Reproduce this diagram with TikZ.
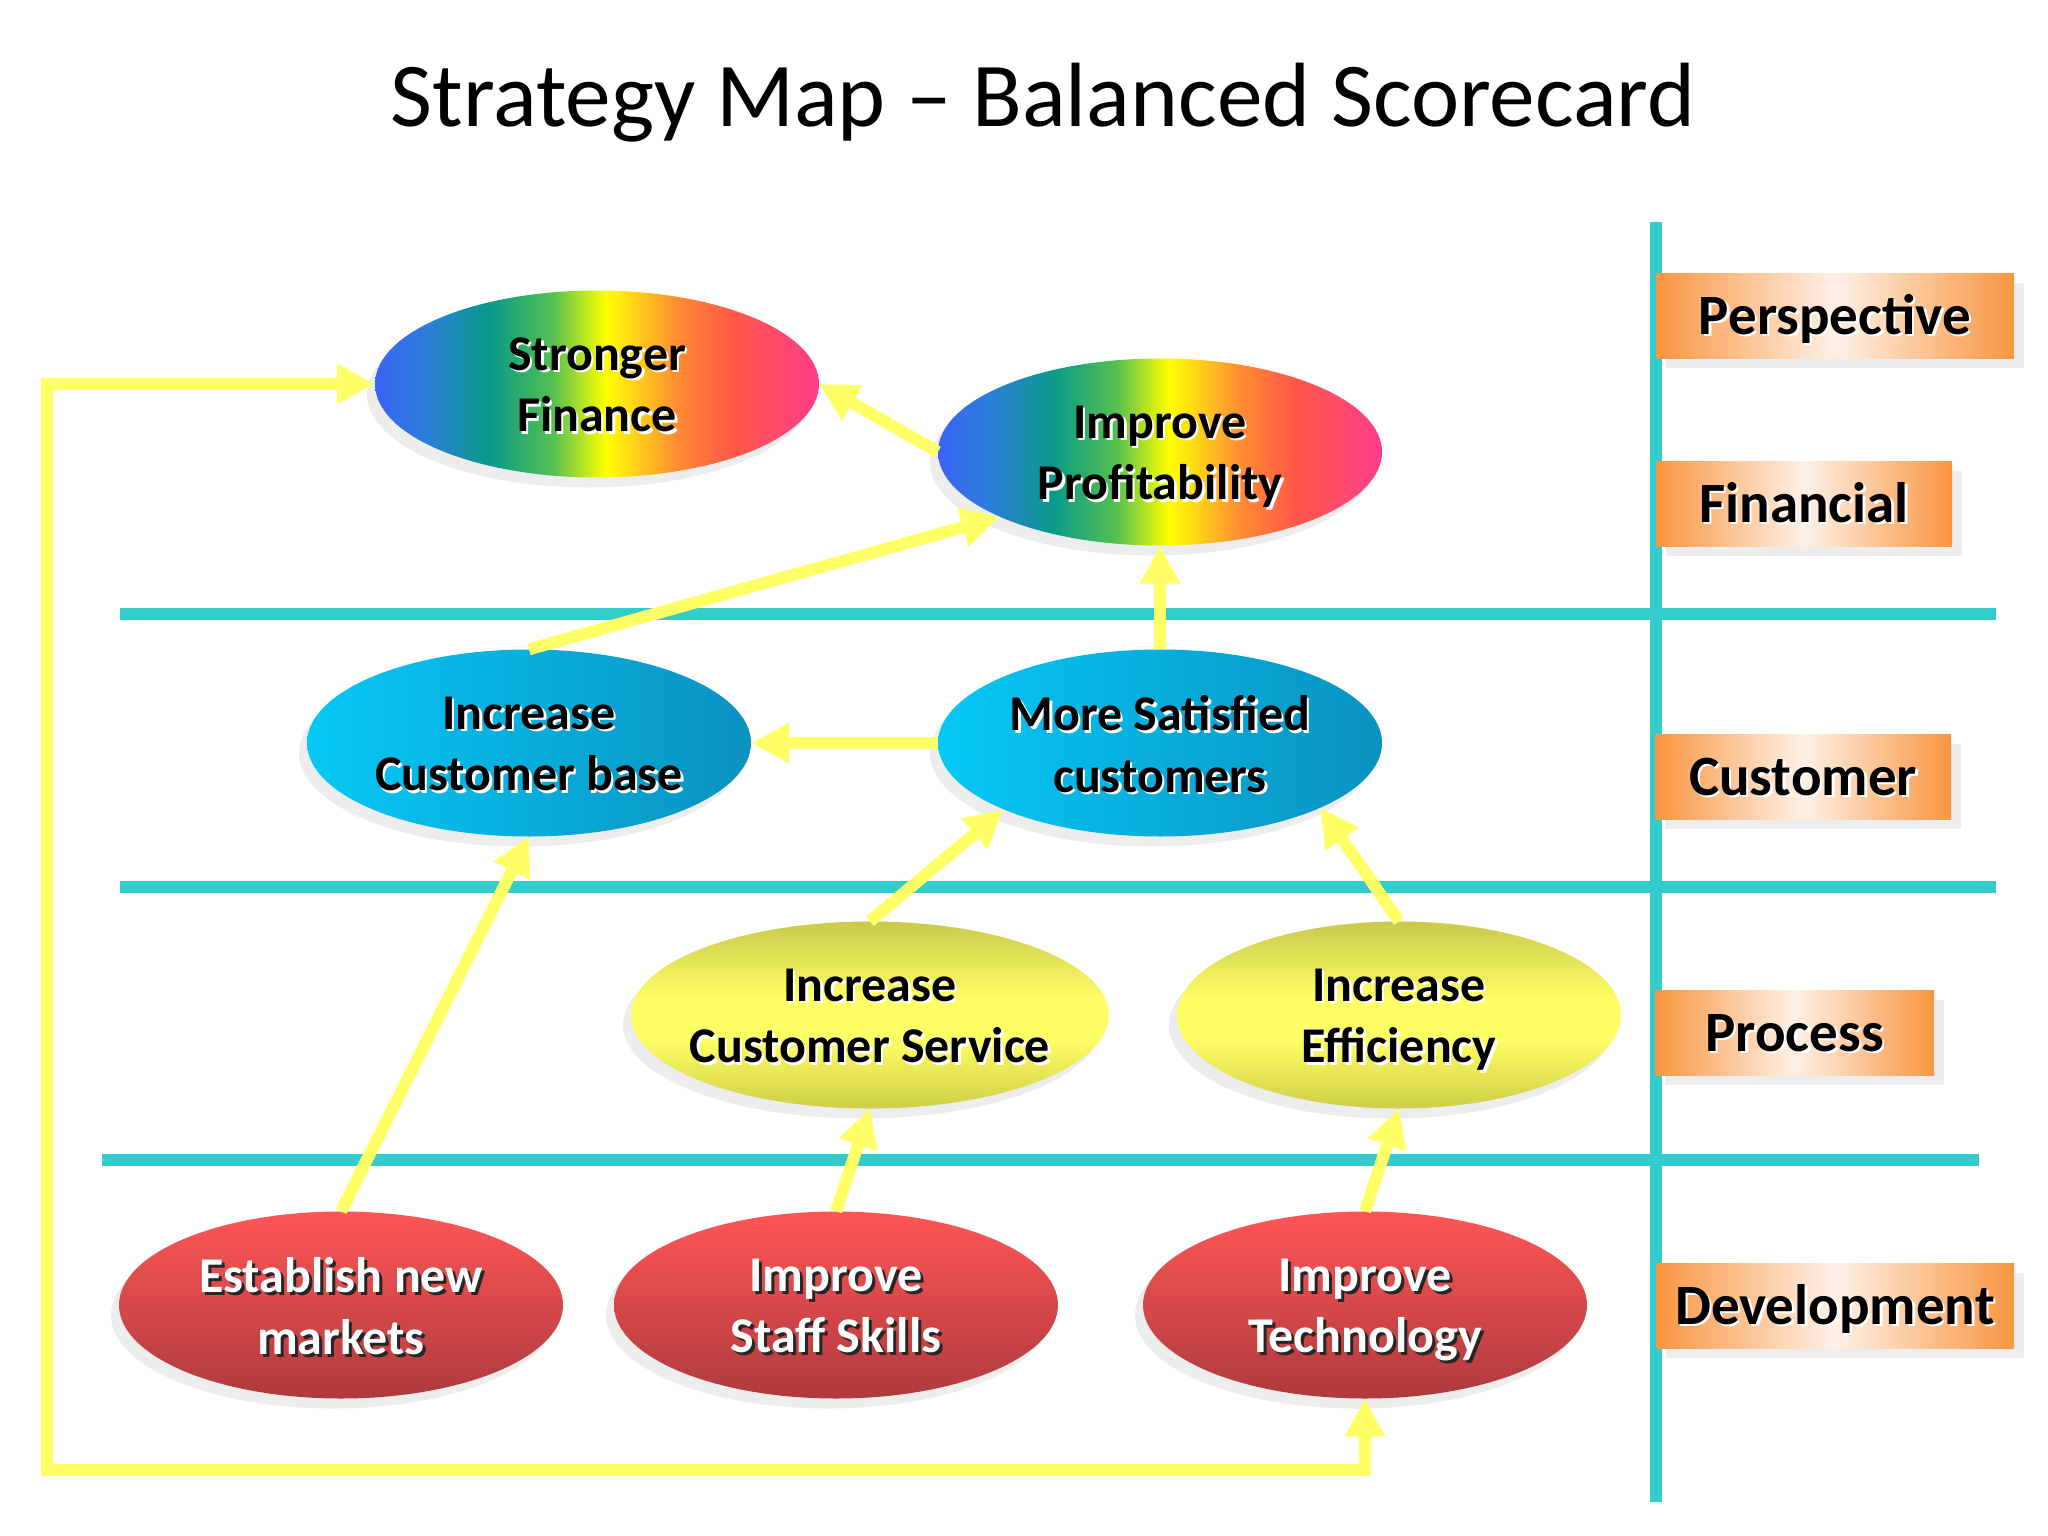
\documentclass[tikz,border=0pt]{standalone}
\usepackage{fontspec}
\setmainfont{Carlito}
\usetikzlibrary{shapes.geometric,arrows.meta,shadows}
\definecolor{lineteal}{HTML}{33CCCC}
\definecolor{arrowyellow}{HTML}{FFFF66}
\definecolor{rb1}{HTML}{3A63F5}
\definecolor{rb2}{HTML}{2A7FD8}
\definecolor{rb3}{HTML}{0A9A88}
\definecolor{rb4}{HTML}{55C050}
\definecolor{rb5}{HTML}{FFFF00}
\definecolor{rb6}{HTML}{FFC81E}
\definecolor{rb7}{HTML}{FF8C32}
\definecolor{rb8}{HTML}{FF5A46}
\definecolor{rb9}{HTML}{FF3C8C}
\definecolor{cyL}{HTML}{06C8F6}
\definecolor{cyR}{HTML}{0A92C0}
\definecolor{yT}{HTML}{C9C94C}
\definecolor{yM}{HTML}{FFFF66}
\definecolor{yB}{HTML}{CFCF48}
\definecolor{rT}{HTML}{FF5656}
\definecolor{rB}{HTML}{AE3A3D}
\definecolor{orB}{HTML}{F9953F}
\definecolor{orL}{HTML}{FEF1E7}
\pgfdeclarehorizontalshading{rainbow}{100bp}{color(0bp)=(rb1); color(25bp)=(rb1); color(31bp)=(rb2); color(38bp)=(rb3); color(45bp)=(rb4); color(51bp)=(rb5); color(55bp)=(rb6); color(59bp)=(rb7); color(65bp)=(rb8); color(75bp)=(rb9); color(100bp)=(rb9)}
\pgfdeclareverticalshading{yellowsh}{100bp}{color(0bp)=(yB); color(25bp)=(yB); color(44bp)=(yM); color(54bp)=(yM); color(75bp)=(yT); color(100bp)=(yT)}
\newcommand{\ellfont}{\fontsize{50}{61.5}\selectfont\bfseries}
\newcommand{\boxfont}{\fontsize{57}{68}\selectfont\bfseries}
\tikzset{
  ell/.style={ellipse, inner sep=0, minimum width=444, minimum height=187,
    drop shadow={shadow xshift=-8pt, shadow yshift=-10pt, fill=black!7, opacity=1}},
  rbell/.style={ell, shade, shading=rainbow},
  cyell/.style={ell, left color=cyL, right color=cyR},
  yell/.style={ell, shade, shading=yellowsh},
  rell/.style={ell, top color=rT, bottom color=rB},
  lbl/.style={font=\ellfont, align=center, inner sep=0, text=black, yshift=-5pt,
    execute at begin node={\vphantom{fl}}, execute at end node={\vphantom{gy}}},
  lblsh/.style={lbl, text=white, xshift=2.5pt, yshift=-2.5pt},
  wlbl/.style={lbl, text=white},
  wlblsh/.style={lbl, text=black!85, xshift=3pt, yshift=-3pt},
  persp/.style={rectangle, inner sep=0, minimum height=85, left color=orB, right color=orB, middle color=orL,
    drop shadow={shadow xshift=10pt, shadow yshift=-10pt, fill=black!7, opacity=1}},
  blbl/.style={font=\boxfont, inner sep=0, text height=37pt, text depth=0pt, text=black},
  blblsh/.style={blbl, text=white, xshift=2.5pt, yshift=-2.5pt},
  sep/.style={draw=lineteal, line width=12pt},
  arr/.style={draw=arrowyellow, line width=12pt, -{Triangle[length=38pt,width=38pt]}},
  dbl/.style={draw=arrowyellow, line width=12pt, {Triangle[length=38pt,width=38pt]}-{Triangle[length=38pt,width=38pt]}},
}
\begin{document}
\begin{tikzpicture}[x=1pt,y=-1pt]
\useasboundingbox[fill=white] (0,0) rectangle (2048,1536);
% title
\node[font=\fontsize{91.3}{110}\selectfont, anchor=base, inner sep=0] (title) at (1043,127) {Strategy Map – Balanced Scorecard};
% separator lines
\draw[sep] (120,614) -- (1996,614);
\draw[sep] (120,887) -- (1996,887);
\draw[sep] (102,1160) -- (1979,1160);
\draw[sep] (1655.5,222) -- (1655.5,1502);
% perspective boxes
\node[persp, minimum width=358, label={[blblsh]center:Perspective}, label={[blbl]center:Perspective}] (bp) at (1835,315.5) {};
\node[persp, minimum width=296, label={[blblsh]center:Financial}, label={[blbl]center:Financial}] (bf) at (1804,503.5) {};
\node[persp, minimum width=296, label={[blblsh]center:Customer}, label={[blbl]center:Customer}] (bc) at (1803,776.5) {};
\node[persp, minimum width=279, label={[blblsh]center:Process}, label={[blbl]center:Process}] (bpr) at (1794.5,1032.5) {};
\node[persp, minimum width=358, label={[blblsh]center:Development}, label={[blbl]center:Development}] (bd) at (1835,1305.5) {};
% objectives
\node[rbell, label={[lblsh]center:Stronger\\Finance}, label={[lbl]center:Stronger\\Finance}] (sf) at (597,384) {};
\node[rbell, label={[lblsh]center:Improve\\Profitability}, label={[lbl]center:Improve\\Profitability}] (ip) at (1160,452) {};
\node[cyell, label={[lblsh]center:Increase\\Customer base}, label={[lbl]center:Increase\\Customer base}] (icb) at (529,743) {};
\node[cyell, label={[lblsh]center:More Satisfied\\customers}, label={[lbl]center:More Satisfied\\customers}] (msc) at (1160,743) {};
\node[yell, minimum width=478, label={[lblsh]center:Increase\\Customer Service}, label={[lbl]center:Increase\\Customer Service}] (ics) at (870,1015) {};
\node[yell, label={[lblsh]center:Increase\\Efficiency}, label={[lbl]center:Increase\\Efficiency}] (ie) at (1399,1015) {};
\node[rell, label={[wlblsh]center:Establish new\\markets}, label={[wlbl]center:Establish new\\markets}] (enm) at (341,1305) {};
\node[rell, label={[wlblsh]center:Improve\\Staff Skills}, label={[wlbl]center:Improve\\Staff Skills}] (iss) at (836,1305) {};
\node[rell, label={[wlblsh]center:Improve\\Technology}, label={[wlbl]center:Improve\\Technology}] (it) at (1365,1305) {};
% connectors
\draw[arr] (ip.west) -- (sf.east);
\draw[arr] (icb.north) -- (ip.202);
\draw[arr] (msc.north) -- (ip.south);
\draw[arr] (msc.west) -- (icb.east);
\draw[arr] (ics.north) -- (msc.203);
\draw[arr] (ie.north) -- (msc.-22);
\draw[arr] (enm.north) -- (icb.south);
\draw[arr] (iss.north) -- (ics.south);
\draw[arr] (it.north) -- (ie.south);
\coordinate (lb) at (47,1470);
\draw[dbl] (sf.west) -| (lb) -| (it.south);
\end{tikzpicture}
\end{document}
